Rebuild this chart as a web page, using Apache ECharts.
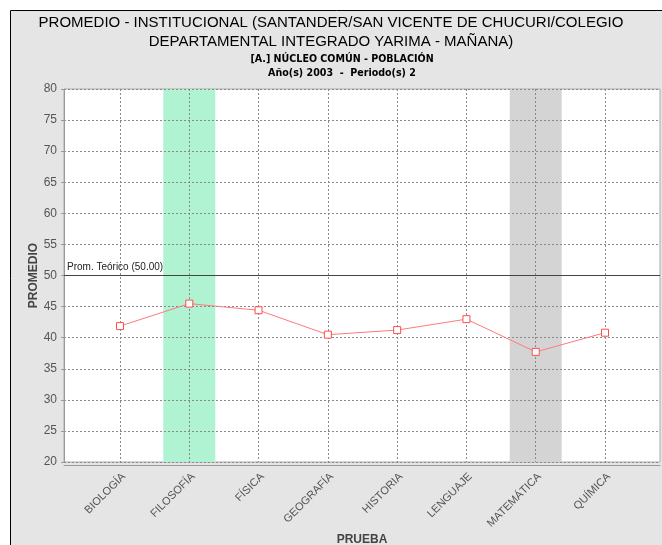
<!DOCTYPE html>
<html>
<head>
<meta charset="utf-8">
<script src="https://cdn.jsdelivr.net/npm/echarts@6/dist/echarts.min.js"></script>
<style>
  html, body { margin: 0; padding: 0; background: #fff; }
  #main { width: 662px; height: 545px; }
</style>
</head>
<body>
<div id="main"></div>
<script>
// datos del gráfico
var categorias = ['BIOLOGÍA', 'FILOSOFÍA', 'FÍSICA', 'GEOGRAFÍA', 'HISTORIA', 'LENGUAJE', 'MATEMÁTICA', 'QUÍMICA'];
var promedios = [41.86, 45.48, 44.41, 40.48, 41.22, 42.98, 37.71, 40.80];
// franjas resaltadas (mejor / peor prueba)
var resaltado = [null, 80, null, null, null, null, 80, null];
var coloresResaltado = [null, '#b0f3d3', null, null, null, null, '#d4d4d4', null];
var promTeorico = 50;

var myChart = echarts.init(document.getElementById('main'));

var dashed = { color: '#8a8a8a', type: [2, 2], width: 1 };

var option = {
    animation: false,
    textStyle: { fontFamily: 'Liberation Sans, Arial, sans-serif' },
    graphic: {
        elements: [{
            type: 'rect',
            z: -10,
            shape: { x: 10.5, y: 10.5, width: 700, height: 600 },
            style: { fill: '#e5e5e5', stroke: '#000', lineWidth: 1 }
        }]
    },
    title: [
        {
            text: 'PROMEDIO - INSTITUCIONAL (SANTANDER/SAN VICENTE DE CHUCURI/COLEGIO\nDEPARTAMENTAL INTEGRADO YARIMA - MAÑANA)',
            left: 'center',
            top: 8,
            textStyle: { fontSize: 15, fontWeight: 'normal', color: '#000', lineHeight: 19, fontFamily: 'Liberation Sans' }
        },
        {
            text: '[A.] NÚCLEO COMÚN - POBLACIÓN\nAño(s) 2003  -  Periodo(s) 2',
            left: 337,
            textAlign: 'center',
            top: 47,
            textStyle: { fontSize: 10.6, fontWeight: 'bold', color: '#000', lineHeight: 14, fontFamily: 'DejaVu Sans Condensed, Liberation Sans' }
        }
    ],
    grid: [
        { left: 64, right: 2, top: 89, bottom: 83, outerBoundsMode: 'none', show: true, backgroundColor: '#fff', borderColor: '#aaa', borderWidth: 1 },
        { left: 120, right: 57, top: 89, bottom: 83, outerBoundsMode: 'none' }
    ],
    xAxis: [
        {
            type: 'value', gridIndex: 0, min: 0, max: 1,
            offset: 3,
            axisLine: { show: true, lineStyle: { color: '#999' } },
            axisTick: { show: false },
            axisLabel: { show: false },
            splitLine: { show: false },
            name: 'PRUEBA', nameLocation: 'middle', nameGap: 69, nameMoveOverlap: false,
            nameTextStyle: { fontSize: 12, fontWeight: 'bold', color: '#444' }
        },
        {
            type: 'category', gridIndex: 1, data: categorias,
            boundaryGap: false,
            z: 3,
            axisLine: { show: false },
            axisTick: { show: false },
            axisLabel: { rotate: 45, fontSize: 11, color: '#555', margin: 9, interval: 0, verticalAlign: 'top' },
            splitLine: { show: true, lineStyle: dashed }
        }
    ],
    yAxis: [
        {
            type: 'value', gridIndex: 0, min: 20, max: 80, interval: 5,
            offset: 3,
            z: 3,
            axisLine: { show: true, lineStyle: { color: '#999' } },
            axisTick: { show: true, length: 3, lineStyle: { color: '#999' } },
            axisLabel: { fontSize: 12, color: '#555', margin: 4 },
            splitLine: { show: true, lineStyle: dashed },
            name: 'PROMEDIO', nameLocation: 'middle', nameGap: 21, nameMoveOverlap: false,
            nameTextStyle: { fontSize: 12, fontWeight: 'bold', color: '#444' }
        },
        {
            type: 'value', gridIndex: 1, min: 20, max: 80, show: false
        }
    ],
    series: [
        {
            type: 'line', xAxisIndex: 0, yAxisIndex: 0,
            data: [],
            silent: true,
            markLine: {
                silent: true,
                symbol: 'none',
                lineStyle: { color: '#444', type: 'solid', width: 1 },
                label: {
                    show: true, position: 'insideStartTop',
                    formatter: 'Prom. Teórico (' + promTeorico.toFixed(2) + ')',
                    fontSize: 10, color: '#222', distance: [3, 3]
                },
                data: [{ yAxis: promTeorico }]
            }
        },
        {
            type: 'bar', xAxisIndex: 1, yAxisIndex: 1,
            z: 1,
            barWidth: 52,
            silent: true,
            data: resaltado.map(function (v, i) {
                return { value: v, itemStyle: { color: coloresResaltado[i] || 'transparent' } };
            })
        },
        {
            type: 'line', xAxisIndex: 1, yAxisIndex: 1,
            z: 5,
            data: promedios,
            symbol: 'rect',
            symbolSize: 7,
            lineStyle: { color: '#ff7a7a', width: 1 },
            itemStyle: { color: '#fff', borderColor: '#ff4d4d', borderWidth: 1 }
        }
    ]
};

myChart.setOption(option);
</script>
</body>
</html>
